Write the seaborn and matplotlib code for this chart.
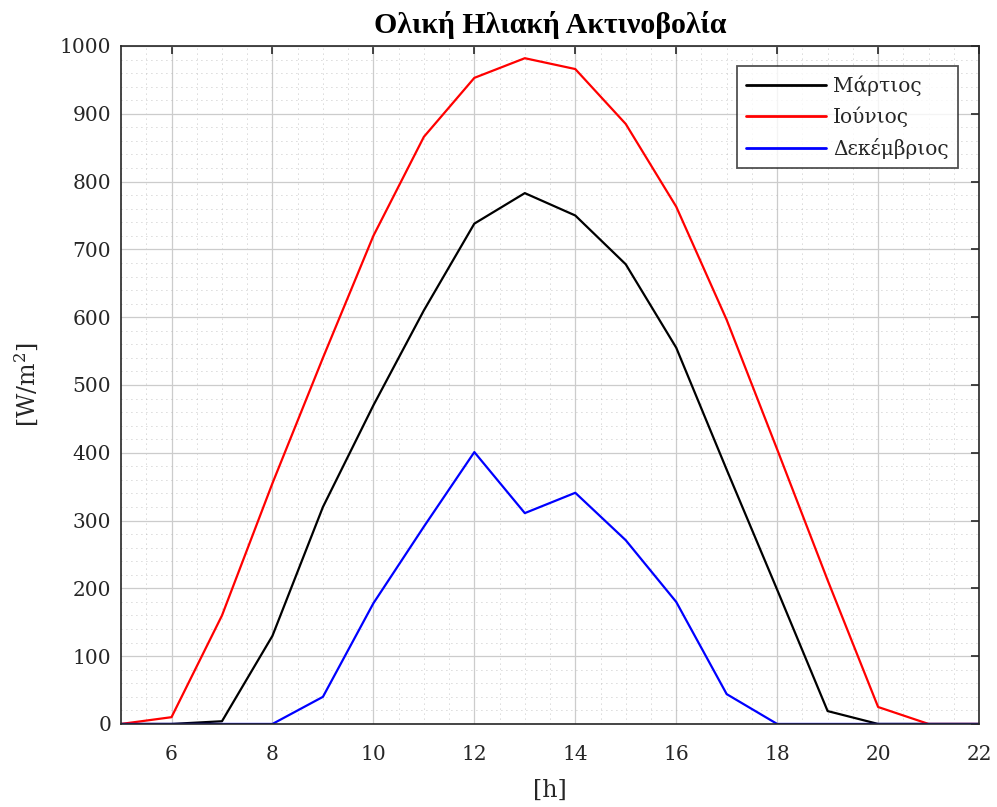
import numpy as np
import pandas as pd
import seaborn as sns
import matplotlib.pyplot as plt
from matplotlib.ticker import MultipleLocator

# data
hours = list(range(5, 23))
march = [0, 0, 4, 130, 320, 470, 610, 738, 783, 750, 678, 555, 375, 198, 19, 0, 0, 0]
june = [0, 10, 160, 355, 540, 720, 866, 953, 982, 966, 885, 763, 596, 405, 212, 25, 0, 0]
december = [0, 0, 0, 0, 40, 178, 291, 401, 311, 341, 271, 180, 44, 0, 0, 0, 0, 0]
series_names = ["Μάρτιος", "Ιούνιος", "Δεκέμβριος"]
colors = ["#000000", "#ff0000", "#0000ff"]

df = pd.DataFrame({
    "hour": hours * 3,
    "value": march + june + december,
    "month": [series_names[0]] * len(hours) + [series_names[1]] * len(hours) + [series_names[2]] * len(hours),
})

sns.set_theme(style="white")
plt.rcParams['font.family'] = ['DejaVu Serif', 'Liberation Serif']
plt.rcParams['mathtext.fontset'] = 'dejavuserif'
textcolor = "#262626"

fig = plt.figure(figsize=(9.97, 8.07), dpi=100)
ax = fig.add_axes([0.1214, 0.1029, 0.8606, 0.8401])

sns.lineplot(data=df, x="hour", y="value", hue="month", palette=colors, linewidth=1.6, ax=ax)

ax.set_xlim(5, 22)
ax.set_ylim(0, 1000)
ax.xaxis.set_major_locator(MultipleLocator(2))
ax.xaxis.set_minor_locator(MultipleLocator(0.5))
ax.yaxis.set_major_locator(MultipleLocator(100))
ax.yaxis.set_minor_locator(MultipleLocator(20))

ax.grid(which="major", color="#cccccc", linewidth=0.9, linestyle="-")
ax.grid(which="minor", color="#b4b4b4", linewidth=0.6, linestyle=(0, (1, 5)))
ax.set_axisbelow(True)

ax.tick_params(which="major", direction="in", length=6, width=1.2, top=True, right=True,
               labelsize=14.5, colors=textcolor)
ax.tick_params(axis="x", which="major", pad=15)
ax.tick_params(axis="y", which="major", pad=7)
ax.tick_params(which="minor", length=0, top=True, right=True)
for s in ax.spines.values():
    s.set_color(textcolor)
    s.set_linewidth(1.2)

ax.set_xlabel("[h]", fontsize=17, color=textcolor, va="center")
ax.set_ylabel("[W/m$^2$]", fontsize=17, color=textcolor, va="center")
ax.xaxis.set_label_coords(0.5, -0.0973)
ax.yaxis.set_label_coords(-0.1096, 0.5)
ax.set_title("Ολική Ηλιακή Ακτινοβολία", fontsize=21.5, fontweight="bold", color="#000000",
             family=["Liberation Serif", "DejaVu Serif"], pad=9)

leg = ax.legend(loc="upper right", bbox_to_anchor=(0.9755, 0.9705), fontsize=14.5, frameon=True,
                fancybox=False, edgecolor=textcolor, handlelength=4.0, borderpad=0.45,
                labelspacing=0.55, handletextpad=0.35, borderaxespad=0)
leg.get_frame().set_linewidth(1.3)
for t in leg.get_texts():
    t.set_color(textcolor)
for h in leg.get_lines():
    h.set_linewidth(2)
leg.set_title(None)

fig.savefig("out.png", dpi=100)
